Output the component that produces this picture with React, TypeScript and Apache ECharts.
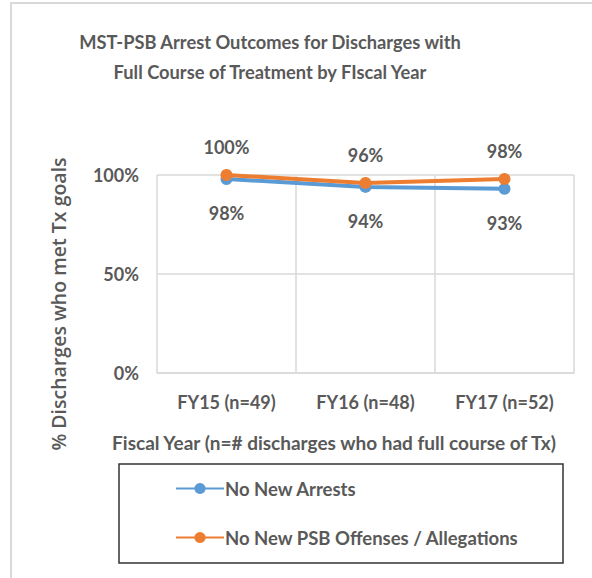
import React, { useEffect, useRef } from "react";
import * as echarts from "echarts";

const categories = ["FY15 (n=49)", "FY16 (n=48)", "FY17 (n=52)"];
const noNewArrests = [98, 94, 93];
const noNewPSB = [100, 96, 98];
const yTicks = { min: 0, max: 100, interval: 50 };
const seriesNames = ["No New Arrests", "No New PSB Offenses / Allegations"];
const titleLines = [
  "MST-PSB Arrest Outcomes for Discharges with",
  "Full Course of Treatment by FIscal Year",
];
const xTitle = "Fiscal Year (n=# discharges who had full course of Tx)";
const yTitle = "% Discharges who met Tx goals";

const FONT = "Lato, 'Open Sans', sans-serif";
const GRAY = "#595959";
const BLUE = "#5b9bd5";
const ORANGE = "#ed7d31";

export default function App() {
  const ref = useRef<HTMLDivElement>(null);
  useEffect(() => {
    document.body.style.margin = "0";
    const chart = echarts.init(ref.current!, null, { renderer: "svg" });
    chart.setOption({
      animation: false,
      backgroundColor: "#ffffff",
      textStyle: { fontFamily: FONT },
      grid: { left: 157, right: 18, top: 175, bottom: 205, containLabel: false },
      xAxis: {
        type: "category",
        data: categories,
        boundaryGap: true,
        axisLine: { show: true, lineStyle: { color: "#d9d9d9", width: 1.5 } },
        axisTick: { show: false },
        splitLine: { show: true, lineStyle: { color: "#d9d9d9", width: 1.5 } },
        axisLabel: {
          fontSize: 18,
          fontWeight: "bold",
          color: GRAY,
          fontFamily: FONT,
          margin: 20,
        },
      },
      yAxis: {
        type: "value",
        min: yTicks.min,
        max: yTicks.max,
        interval: yTicks.interval,
        axisLine: { show: false },
        axisTick: { show: false },
        splitLine: { show: true, lineStyle: { color: "#d9d9d9", width: 1.5 } },
        axisLabel: {
          formatter: "{value}%",
          fontSize: 18,
          fontWeight: "bold",
          color: GRAY,
          fontFamily: FONT,
          margin: 18,
        },
      },
      legend: {
        orient: "vertical",
        left: 170,
        top: 474,
        itemWidth: 48,
        itemHeight: 14,
        itemGap: 30,
        data: seriesNames,
        textStyle: { fontSize: 18.5, color: GRAY, fontFamily: FONT, fontWeight: "bold", padding: [0, 0, 0, -4] },
      },
      series: [
        {
          name: seriesNames[0],
          type: "line",
          data: noNewArrests,
          color: BLUE,
          symbol: "circle",
          symbolSize: 12,
          lineStyle: { width: 4, color: BLUE },
          itemStyle: { color: BLUE },
          label: {
            show: true,
            position: "bottom",
            distance: 19,
            formatter: "{c}%",
            fontSize: 18,
            fontWeight: "bold",
            color: GRAY,
            fontFamily: FONT,
          },
          z: 2,
        },
        {
          name: seriesNames[1],
          type: "line",
          data: noNewPSB,
          color: ORANGE,
          symbol: "circle",
          symbolSize: 12,
          lineStyle: { width: 4, color: ORANGE },
          itemStyle: { color: ORANGE },
          label: {
            show: true,
            position: "top",
            distance: 13,
            formatter: "{c}%",
            fontSize: 18,
            fontWeight: "bold",
            color: GRAY,
            fontFamily: FONT,
          },
          z: 3,
        },
      ],
      graphic: [
        {
          type: "rect",
          shape: { x: 11, y: 3, width: 620, height: 620 },
          style: { fill: "none", stroke: "#d9d9d9", lineWidth: 2 },
          silent: true,
          z: -1,
        },
        {
          type: "rect",
          shape: { x: 119, y: 464, width: 444, height: 99 },
          style: { fill: "none", stroke: "#333333", lineWidth: 1.5 },
          silent: true,
        },
        {
          type: "text",
          x: 270,
          y: 42,
          style: {
            text: titleLines[0],
            fontSize: 18.3,
            fontWeight: "bold",
            fill: GRAY,
            fontFamily: FONT,
            textAlign: "center",
            textVerticalAlign: "middle",
          },
        },
        {
          type: "text",
          x: 270,
          y: 72,
          style: {
            text: titleLines[1],
            fontSize: 18.3,
            fontWeight: "bold",
            fill: GRAY,
            fontFamily: FONT,
            textAlign: "center",
            textVerticalAlign: "middle",
          },
        },
        {
          type: "text",
          x: 334,
          y: 442,
          style: {
            text: xTitle,
            fontSize: 19,
            fontWeight: "bold",
            fill: GRAY,
            fontFamily: FONT,
            textAlign: "center",
            textVerticalAlign: "middle",
          },
        },
        {
          type: "text",
          x: 58,
          y: 304,
          rotation: Math.PI / 2,
          style: {
            text: yTitle,
            fontSize: 19.5,
            fontWeight: 600,
            fill: GRAY,
            fontFamily: "'Open Sans', sans-serif",
            textAlign: "center",
            textVerticalAlign: "middle",
          },
        },
      ],
    });
    return () => chart.dispose();
  }, []);
  return (
    <div
      ref={ref}
      style={{ position: "absolute", left: 0, top: 0, width: 592, height: 578 }}
    />
  );
}
